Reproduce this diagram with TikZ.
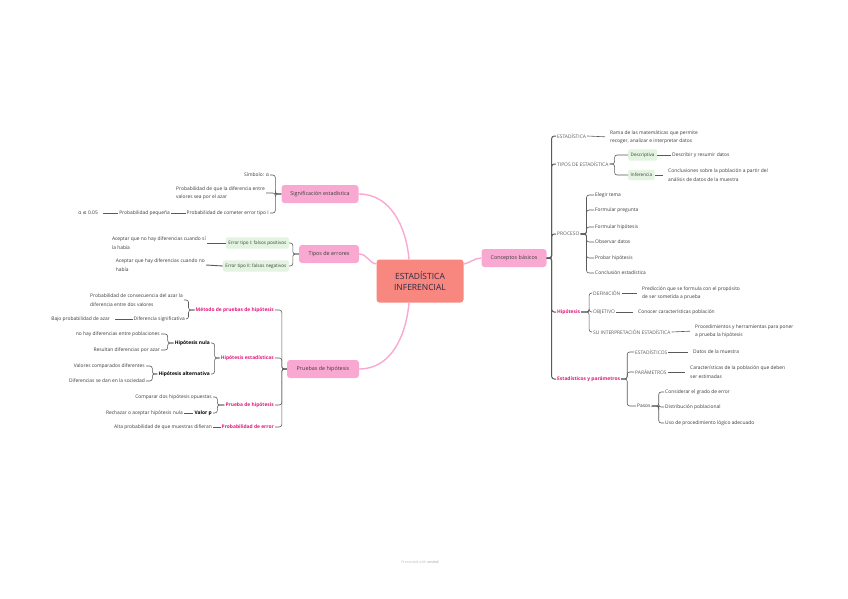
\documentclass[tikz,border=0pt]{standalone}
\usepackage{fontspec}
\setmainfont{Open Sans}
\newfontfamily\symfont{DejaVu Sans}
\usepackage{tikz}
\usetikzlibrary{calc}

\definecolor{rootred}{HTML}{F8877F}
\definecolor{topicpink}{HTML}{F9A9D1}
\definecolor{subgreen}{HTML}{E3F4E1}
\definecolor{hotpink}{HTML}{E2187C}
\definecolor{inkgray}{HTML}{3C3C3C}
\definecolor{linegray}{HTML}{5A5A5A}
\definecolor{rootink}{HTML}{2C2B45}

\tikzset{
  root/.style={fill=rootred, rounded corners=3pt, text=rootink, align=center, minimum width=87pt, minimum height=43pt, font=\fontsize{8.5}{11}\selectfont},
  topic/.style={fill=topicpink, rounded corners=3pt, text=inkgray, minimum height=18pt, font=\fontsize{5.4}{6.5}\selectfont},
  sub/.style={fill=subgreen, rounded corners=2pt, text=inkgray, inner xsep=2.5pt, minimum height=10pt, font=\fontsize{4.6}{5.5}\selectfont},
  leaf/.style={text=inkgray, inner sep=1pt, align=left, font=\fontsize{4.9}{8.5}\selectfont},
  caps/.style={leaf, text=linegray},
  hot/.style={leaf, text=hotpink, font=\fontsize{4.9}{8.5}\selectfont\bfseries},
  strong/.style={leaf, text=black, font=\fontsize{4.9}{8.5}\selectfont\bfseries},
  branch/.style={draw=topicpink, line width=1.4pt},
  link/.style={draw=linegray, line width=0.6pt, rounded corners=2.5pt},
  trunk/.style={link, line width=1pt},
  spaced/.style={link, shorten >=4pt}
}

\begin{document}
\begin{tikzpicture}[x=1pt,y=-1pt]
\fill[white] (0,0) rectangle (848,599);
\path[use as bounding box] (0,0) rectangle (848,599);

\node[root] (root) at (420,281) {ESTADÍSTICA\\INFERENCIAL};

\node[topic, minimum width=77pt] (sig) at (320,194) {Significación estadística};
\node[topic, minimum width=60pt] (tip) at (329,254) {Tipos de errores};
\node[topic, minimum width=72pt] (pru) at (323,369) {Pruebas de hipótesis};
\node[topic, minimum width=65pt] (con) at (514,258) {Conceptos básicos};

\draw[branch] (sig.east) to[out=0,in=95] ([xshift=-11pt]root.north);
\draw[branch] (tip.east) to[out=0,in=170] ([yshift=17pt]root.west);
\draw[branch] (pru.east) to[out=0,in=-95] ([xshift=-11pt]root.south);
\draw[branch] ([yshift=17pt]root.east) to[out=10,in=180] (con.west);

\node[leaf, anchor=east] (sim) at (270,175) {Símbolo: α};
\node[leaf, anchor=east] (pdif) at (266,193) {Probabilidad de que la diferencia entre\\valores sea por el azar};
\node[leaf, anchor=east] (perr) at (270,213) {Probabilidad de cometer error tipo I};
\node[leaf, anchor=east] (ppeq) at (171,213) {Probabilidad pequeña};
\node[leaf, anchor=east] (alfa) at (99,213) {α {\symfont≤} 0.05};
\draw[link] (sig.west) -- ++(-6,0) |- (sim.east);
\draw[link] (sig.west) -- ++(-6,0) |- (pdif.east);
\draw[link] (sig.west) -- ++(-6,0) |- (perr.east);
\draw[link, line width=1pt] (perr.west) -- (ppeq.east);
\draw[spaced] (ppeq.west) -- (alfa.east);

\node[sub, anchor=east] (err1) at (289,243) {Error tipo I: falsos positivos};
\node[sub, anchor=east] (err2) at (289,266) {Error tipo II: falsos negativos};
\node[leaf, anchor=east] (err1d) at (207,243) {Aceptar que no hay diferencias cuando sí\\la había};
\node[leaf, anchor=east] (err2d) at (206,265) {Aceptar que hay diferencias cuando no\\había};
\draw[link] (tip.west) -- ++(-6,0) |- (err1.east);
\draw[link] (tip.west) -- ++(-6,0) |- (err2.east);
\draw[link, line width=0.9pt] (err1.west) -- (err1d.east);
\draw[link, line width=0.9pt] (err2.west) -- (err2d.east);

\node[hot, anchor=east] (met) at (275,310) {Método de pruebas de hipótesis};
\node[hot, anchor=east] (hest) at (275,358) {Hipótesis estadísticas};
\node[hot, anchor=east] (prh) at (275,405) {Prueba de hipótesis};
\node[hot, anchor=east] (perror) at (275,427) {Probabilidad de error};
\foreach \c in {met,hest,prh,perror}
  \draw[link] (pru.west) -- ++(-5,0) |- (\c.east);

\node[leaf, anchor=east] (pcon) at (184,300) {Probabilidad de consecuencia del azar la\\diferencia entre dos valores};
\node[leaf, anchor=east] (dsig) at (186,319) {Diferencia significativa};
\node[leaf, anchor=east] (bajo) at (111,319) {Bajo probabilidad de azar};
\draw[link] (met.west) -- ++(-6,0) |- (pcon.east);
\draw[link] (met.west) -- ++(-6,0) |- (dsig.east);
\draw[spaced] (dsig.west) -- (bajo.east);

\node[strong, anchor=east] (hnul) at (211,343) {Hipótesis nula};
\node[strong, anchor=east] (halt) at (211,374) {Hipótesis alternativa};
\draw[link] (hest.west) -- ++(-5,0) |- (hnul.east);
\draw[link] (hest.west) -- ++(-5,0) |- (halt.east);
\node[leaf, anchor=east] (nohay) at (161,334) {no hay diferencias entre poblaciones};
\node[leaf, anchor=east] (resul) at (161,350) {Resultan diferencias por azar};
\draw[link] (hnul.west) -- ++(-6,0) |- (nohay.east);
\draw[link] (hnul.west) -- ++(-6,0) |- (resul.east);
\node[leaf, anchor=east] (vcom) at (146,366) {Valores comparados diferentes};
\node[leaf, anchor=east] (dsoc) at (146,381) {Diferencias se dan en la sociedad};
\draw[link] (halt.west) -- ++(-5,0) |- (vcom.east);
\draw[link] (halt.west) -- ++(-5,0) |- (dsoc.east);

\node[leaf, anchor=east] (comp) at (213,397) {Comparar dos hipótesis opuestas};
\node[strong, anchor=east] (valp) at (213,413) {Valor p};
\node[leaf, anchor=east] (rech) at (184,413) {Rechazar o aceptar hipótesis nula};
\draw[link] (prh.west) -- ++(-7,0) |- (comp.east);
\draw[link] (prh.west) -- ++(-7,0) |- (valp.east);
\draw[link, line width=0.9pt] (valp.west) -- (rech.east);
\node[leaf, anchor=east] (alta) at (213,427) {Alta probabilidad de que muestras difieran};
\draw[link, line width=0.9pt] (perror.west) -- (alta.east);

\node[caps, anchor=west] (est) at (556,136) {ESTADÍSTICA};
\node[leaf, anchor=west] (estd) at (609,137) {Rama de las matemáticas que permite\\recoger, analizar e interpretar datos};
\node[caps, anchor=west] (tipe) at (556,164) {TIPOS DE ESTADÍSTICA};
\node[caps, anchor=west] (proc) at (556,234) {PROCESO};
\node[hot, anchor=west] (hip) at (556,312) {Hipótesis};
\node[hot, anchor=west] (epar) at (556,379) {Estadísticos y parámetros};
\foreach \c in {est,tipe,proc,hip,epar}
  \draw[trunk] (con.east) -- ++(5,0) |- (\c.west);
\draw[spaced] (est.east) -- (estd.west);

\node[sub, anchor=west] (desc) at (628,155) {Descriptiva};
\node[sub, anchor=west] (infe) at (628,175) {Inferencia};
\node[leaf, anchor=west] (descd) at (671,155) {Describir y resumir datos};
\node[leaf, anchor=west] (infed) at (667,175) {Conclusiones sobre la población a partir del\\análisis de datos de la muestra};
\draw[link] (tipe.east) -- ++(5,0) |- (desc.west);
\draw[link] (tipe.east) -- ++(5,0) |- (infe.west);
\draw[link, line width=0.9pt] (desc.east) -- (descd.west);
\draw[spaced] (infe.east) -- (infed.west);

\foreach \n/\y/\t in {1/195/Elegir tema, 2/210/Formular pregunta, 3/227/Formular hipótesis, 4/242/Observar datos, 5/258/Probar hipótesis, 6/273/Conclusión estadística}{
  \node[leaf, anchor=west] (paso\n) at (594,\y) {\t};
  \draw[link] (proc.east) -- ++(6,0) |- (paso\n.west);
}

\node[caps, anchor=west] (def) at (592,293) {DEFINICIÓN};
\node[leaf, anchor=west] (defd) at (641,293) {Predicción que se formula con el propósito\\de ser sometida a prueba};
\node[caps, anchor=west] (obj) at (592,312) {OBJETIVO};
\node[leaf, anchor=west] (objd) at (637,312) {Conocer características población};
\node[caps, anchor=west] (sui) at (592,332) {SU INTERPRETACIÓN ESTADÍSTICA};
\node[leaf, anchor=west] (suid) at (694,331) {Procedimientos y herramientas para poner\\a prueba la hipótesis};
\foreach \c in {def,obj,sui}
  \draw[link] (hip.east) -- ++(8,0) |- (\c.west);
\draw[spaced] (def.east) -- (defd.west);
\draw[spaced] (obj.east) -- (objd.west);
\draw[spaced] (sui.east) -- (suid.west);

\node[caps, anchor=west] (estc) at (634,352) {ESTADÍSTICOS};
\node[leaf, anchor=west] (estcd) at (692,352) {Datos de la muestra};
\node[caps, anchor=west] (para) at (634,372) {PARÁMETROS};
\node[leaf, anchor=west] (parad) at (689,372) {Características de la población que deben\\ser estimadas};
\node[leaf, anchor=west] (pasos) at (636,406) {Pasos};
\foreach \c in {estc,para,pasos}
  \draw[link] (epar.east) -- ++(6,0) |- (\c.west);
\draw[spaced] (estc.east) -- (estcd.west);
\draw[spaced] (para.east) -- (parad.west);

\foreach \n/\y/\t in {1/392/Considerar el grado de error, 2/407/Distribución poblacional, 3/423/Uso de procedimiento lógico adecuado}{
  \node[leaf, anchor=west] (pas\n) at (664,\y) {\t};
  \draw[link] (pasos.east) -- ++(7,0) |- (pas\n.west);
}

\node[text=black!25, inner sep=1pt, font=\fontsize{3.6}{4}\selectfont] (foot) at (420,562) {Presented with \textbf{xmind}};
\end{tikzpicture}
\end{document}
